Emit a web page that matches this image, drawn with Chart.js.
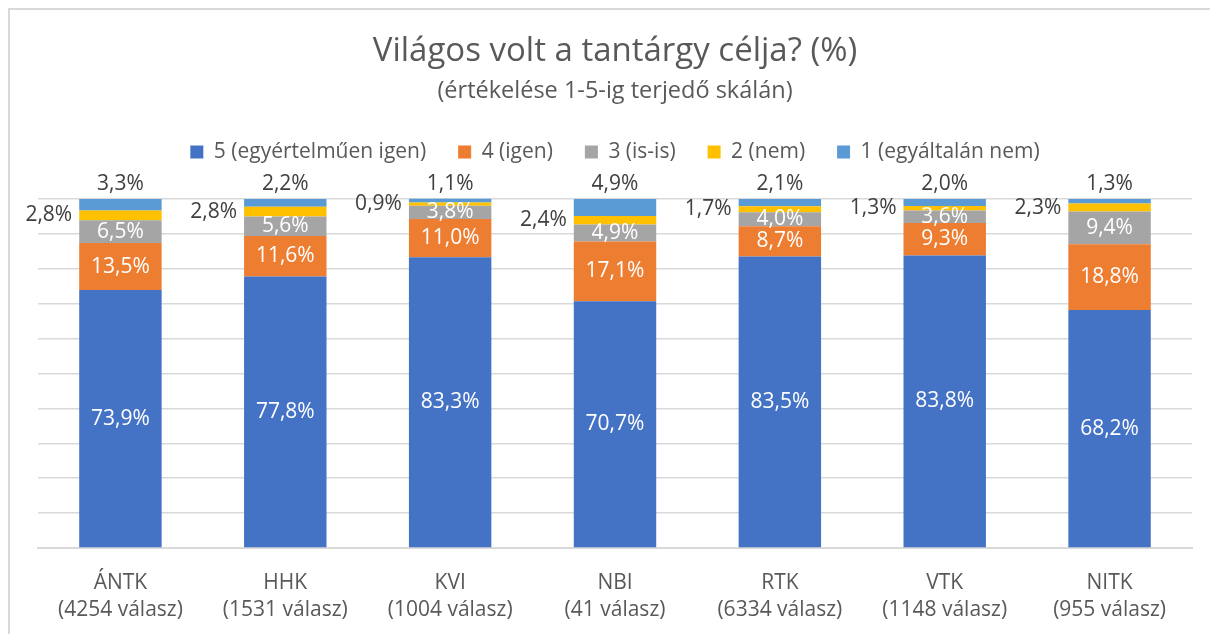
<!DOCTYPE html>
<html>
<head>
<meta charset="utf-8">
<script src="https://cdn.jsdelivr.net/npm/chart.js@4"></script>
<style>
  body { margin: 0; background: #fff; }
  #wrap { position: relative; width: 1210px; height: 634px; overflow: hidden; }
  #frame { position: absolute; left: 8px; top: 8px; width: 1220px; height: 640px; border: 2px solid #D9D9D9; }
  canvas { position: absolute; left: 0; top: 0; }
</style>
</head>
<body>
<div id="wrap">
  <div id="frame"></div>
  <canvas id="chart" width="1210" height="634"></canvas>
</div>
<script>
const karok = [["ÁNTK", "(4254 válasz)"], ["HHK", "(1531 válasz)"], ["KVI", "(1004 válasz)"],
  ["NBI", "(41 válasz)"], ["RTK", "(6334 válasz)"], ["VTK", "(1148 válasz)"], ["NITK", "(955 válasz)"]];

const ertek5 = [73.9, 77.8, 83.3, 70.7, 83.5, 83.8, 68.2];
const ertek4 = [13.5, 11.6, 11.0, 17.1, 8.7, 9.3, 18.8];
const ertek3 = [6.5, 5.6, 3.8, 4.9, 4.0, 3.6, 9.4];
const ertek2 = [2.8, 2.8, 0.9, 2.4, 1.7, 1.3, 2.3];
const ertek1 = [3.3, 2.2, 1.1, 4.9, 2.1, 2.0, 1.3];

const cimkek = ["5 (egyértelműen igen)", "4 (igen)", "3 (is-is)", "2 (nem)", "1 (egyáltalán nem)"];
const szinek = ["#4472C4", "#ED7D31", "#A5A5A5", "#FFC000", "#5B9BD5"];

const betu = "'Open Sans', sans-serif";

function szazalek(v) {
  return v.toFixed(1).replace(".", ",") + "%";
}

// cimkek a savokon
const adatCimkek = {
  id: "adatCimkek",
  afterInit(chart) {
    // jelmagyarazat magassaga, hogy a rajzterulet 200px-nel kezdodjon
    const lg = chart.legend;
    const eredeti = lg.fit;
    lg.fit = function () {
      eredeti.call(this);
      this.height = 89.5;
    };
  },
  afterDatasetsDraw(chart) {
    const ctx = chart.ctx;
    ctx.save();
    ctx.font = "21px " + betu;
    ctx.textBaseline = "middle";
    chart.data.datasets.forEach(function (ds, i) {
      const meta = chart.getDatasetMeta(i);
      meta.data.forEach(function (bar, j) {
        const szoveg = szazalek(ds.data[j]);
        const kozep = (bar.y + bar.base) / 2;
        if (i < 3) {
          ctx.fillStyle = "#FFFFFF";
          ctx.textAlign = "center";
          ctx.fillText(szoveg, bar.x, kozep);
        } else if (i === 3) {
          ctx.fillStyle = "#404040";
          ctx.textAlign = "right";
          ctx.fillText(szoveg, bar.x - bar.width / 2 - 7, kozep);
        } else {
          ctx.fillStyle = "#404040";
          ctx.textAlign = "center";
          ctx.fillText(szoveg, bar.x, bar.y - 15);
        }
      });
    });
    ctx.restore();
  }
};

const sorok = [ertek5, ertek4, ertek3, ertek2, ertek1];

function rajzol() {
  new Chart(document.getElementById("chart"), {
    type: "bar",
    data: {
      labels: karok,
      datasets: sorok.map(function (s, i) {
        return {
          label: cimkek[i],
          data: s,
          backgroundColor: szinek[i],
          borderWidth: 0,
          barPercentage: 1,
          categoryPercentage: 0.5,
          clip: false
        };
      })
    },
    options: {
      responsive: false,
      animation: false,
      layout: { padding: { top: 35, left: 38, right: 18, bottom: 0 } },
      plugins: {
        title: {
          display: true,
          text: "Világos volt a tantárgy célja? (%)",
          color: "#595959",
          font: { family: betu, size: 33, weight: "normal", lineHeight: 1 },
          padding: { top: 0, bottom: 12 }
        },
        subtitle: {
          display: true,
          text: "(értékelése 1-5-ig terjedő skálán)",
          color: "#595959",
          font: { family: betu, size: 23.5, weight: "normal", lineHeight: 1 },
          padding: { top: 0, bottom: 6 }
        },
        legend: {
          position: "top",
          labels: {
            color: "#595959",
            font: { family: betu, size: 21 },
            boxWidth: 13,
            boxHeight: 13,
            padding: 32
          }
        },
        tooltip: { enabled: false }
      },
      scales: {
        x: {
          stacked: true,
          grid: { display: false, drawTicks: false },
          border: { color: "#D9D9D9", width: 2 },
          ticks: { color: "#595959", font: { family: betu, size: 21, lineHeight: 1.27 }, padding: 22 },
          afterFit: function (scale) { scale.height = 86; }
        },
        y: {
          stacked: true,
          min: 0,
          max: 100,
          ticks: { display: false, stepSize: 10 },
          border: { display: false },
          grid: { color: "#D9D9D9", lineWidth: 1.5, drawTicks: false }
        }
      }
    },
    plugins: [adatCimkek]
  });
}

document.fonts.load("21px 'Open Sans'").then(rajzol, rajzol);
</script>
</body>
</html>
